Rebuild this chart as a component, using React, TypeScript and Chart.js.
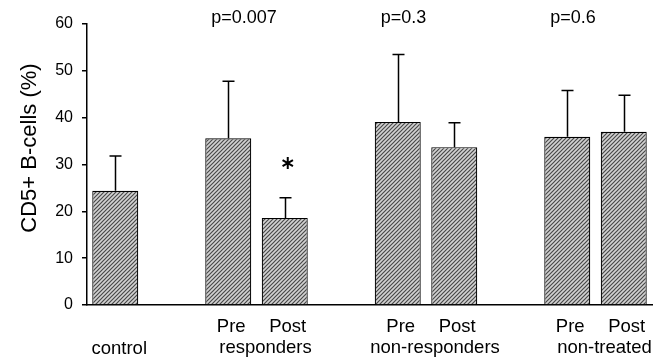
import React, { useEffect, useRef } from "react";
import { Chart, registerables } from "chart.js";

Chart.register(...registerables);

// 10 category slots; empty strings are the gaps between groups
const slots = ["control", "", "Pre", "Post", "", "Pre", "Post", "", "Pre", "Post"];
const means: (number | null)[] = [24.4, null, 35.6, 18.6, null, 39.1, 33.7, null, 35.9, 37.0];
const sds: (number | null)[] = [7.4, null, 12.2, 4.3, null, 14.4, 5.2, null, 9.9, 7.8];
const groupNames = ["responders", "non-responders", "non-treated"];
const groupPairs = [[2, 3], [5, 6], [8, 9]];
const pValues = ["p=0.007", "p=0.3", "p=0.6"];
const asteriskSlot = 3;
const asteriskValue = 30.3;
const yTicks = [0, 10, 20, 30, 40, 50, 60];

function makePattern(): CanvasPattern | string {
  const c = document.createElement("canvas");
  c.width = 4;
  c.height = 4;
  const g = c.getContext("2d");
  if (!g) return "#999";
  g.fillStyle = "#d2d2d2";
  g.fillRect(0, 0, 4, 4);
  g.strokeStyle = "#484848";
  g.lineWidth = 1.2;
  g.beginPath();
  g.moveTo(-1, 5);
  g.lineTo(5, -1);
  g.moveTo(-1, 1);
  g.lineTo(1, -1);
  g.moveTo(3, 5);
  g.lineTo(5, 3);
  g.stroke();
  const p = g.createPattern(c, "repeat");
  return p || "#999";
}

const FONT = "'Liberation Sans', Arial, sans-serif";

const annotations = {
  id: "annotations",
  afterDatasetsDraw(chart: any) {
    const ctx = chart.ctx;
    const xs = chart.scales.x;
    const ys = chart.scales.y;
    const meta = chart.getDatasetMeta(0);
    ctx.save();
    // error bars
    ctx.strokeStyle = "#000";
    ctx.lineWidth = 1.5;
    means.forEach((m, i) => {
      const sd = sds[i];
      if (m == null || sd == null) return;
      const el = meta.data[i];
      const x = Math.round(el.x) + 0.5;
      const yb = el.y;
      const yt = ys.getPixelForValue(m + sd);
      ctx.beginPath();
      ctx.moveTo(x, yb);
      ctx.lineTo(x, yt);
      ctx.moveTo(x - 6, yt);
      ctx.lineTo(x + 6, yt);
      ctx.stroke();
    });
    // asterisk
    const ax = xs.getPixelForValue(asteriskSlot) + 3;
    const ay = ys.getPixelForValue(asteriskValue);
    ctx.lineWidth = 2;
    ctx.beginPath();
    for (const ang of [90, 30, 150]) {
      const r = (ang * Math.PI) / 180;
      ctx.moveTo(ax - 6 * Math.cos(r), ay - 6 * Math.sin(r));
      ctx.lineTo(ax + 6 * Math.cos(r), ay + 6 * Math.sin(r));
    }
    ctx.stroke();

    ctx.fillStyle = "#000";
    const slotW = (xs.right - xs.left) / slots.length;
    // p-values
    ctx.font = `18px ${FONT}`;
    ctx.textAlign = "left";
    ctx.textBaseline = "middle";
    groupPairs.forEach((pair, gi) => {
      const x = xs.getPixelForValue(pair[0]) - slotW * 0.3;
      ctx.fillText(pValues[gi], x, 18);
    });
    // x labels
    ctx.textAlign = "center";
    ctx.font = `18.5px ${FONT}`;
    slots.forEach((s, i) => {
      if (!s || s === "control") return;
      ctx.fillText(s, xs.getPixelForValue(i) + 3, 327);
    });
    ctx.fillText("control", xs.getPixelForValue(0) + 4, 349);
    groupPairs.forEach((pair, gi) => {
      const x = (xs.getPixelForValue(pair[0]) + xs.getPixelForValue(pair[1])) / 2 + 9;
      ctx.fillText(groupNames[gi], x, 348);
    });
    // y title
    ctx.save();
    ctx.translate(30, 148);
    ctx.rotate(-Math.PI / 2);
    ctx.font = `22px ${FONT}`;
    ctx.fillText("CD5+ B-cells (%)", 0, 0);
    ctx.restore();
    ctx.restore();
  },
};

export default function App() {
  const ref = useRef<HTMLCanvasElement>(null);
  useEffect(() => {
    document.body.style.margin = "0";
    if (!ref.current) return;
    const pattern = makePattern();
    const chart = new Chart(ref.current, {
      type: "bar",
      data: {
        labels: slots,
        datasets: [
          {
            data: means as any,
            backgroundColor: pattern as any,
            borderColor: "#000",
            borderWidth: 1.2,
            barPercentage: 0.814,
            categoryPercentage: 1,
          },
        ],
      },
      options: {
        animation: false,
        responsive: false,
        layout: { padding: { top: 24, right: 5, left: 0, bottom: 0 } },
        plugins: { legend: { display: false }, tooltip: { enabled: false } },
        scales: {
          x: {
            grid: { display: false },
            border: { display: true, color: "#000", width: 1.5 },
            ticks: { display: false },
            afterFit: (s: any) => {
              s.height = 53;
            },
          },
          y: {
            min: 0,
            max: 60,
            afterBuildTicks: (s: any) => {
              s.ticks = yTicks.map((v) => ({ value: v }));
            },
            grid: { drawOnChartArea: false, drawTicks: true, tickLength: 5, color: "#000", lineWidth: 1.5 },
            border: { display: true, color: "#000", width: 1.5 },
            ticks: { color: "#000", font: { size: 16, family: FONT }, padding: 9 },
            afterFit: (s: any) => {
              s.width = 87;
            },
          },
        },
      },
      plugins: [annotations],
    });
    return () => chart.destroy();
  }, []);
  return (
    <div style={{ width: 657, height: 358 }}>
      <canvas ref={ref} width={657} height={358} style={{ display: "block" }} />
    </div>
  );
}
